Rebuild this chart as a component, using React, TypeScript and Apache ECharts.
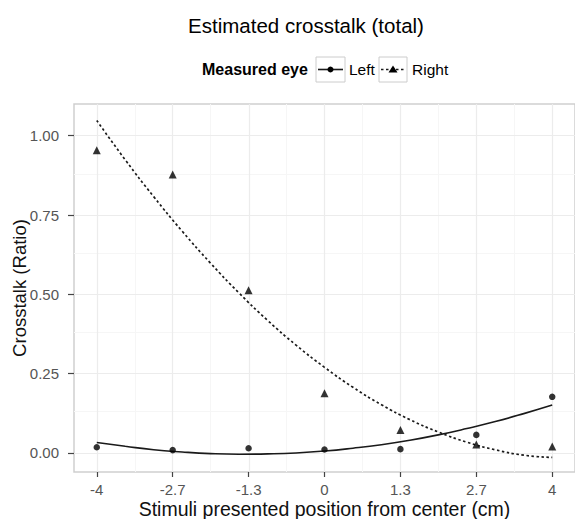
import React, { useEffect, useRef } from "react";
import * as echarts from "echarts";

// ---- data ----
const xTicks = [-4, -8 / 3, -4 / 3, 0, 4 / 3, 8 / 3, 4];
const xTickLabels = ["-4", "-2.7", "-1.3", "0", "1.3", "2.7", "4"];
const xMinor = [-10 / 3, -2, -2 / 3, 2 / 3, 2, 10 / 3];
const yTicks = [0, 0.25, 0.5, 0.75, 1.0];
const yMinor = [0.125, 0.375, 0.625, 0.875];

const leftValues = [0.018, 0.009, 0.015, 0.011, 0.012, 0.057, 0.177];
const rightValues = [0.954, 0.878, 0.513, 0.188, 0.072, 0.027, 0.02];

const fitX = [-4, -3.5, -3, -2.5, -2, -1.5, -1, -0.5, 0, 0.5, 1, 1.5, 2, 2.5, 3, 3.5, 4];
const leftFit = [0.033, 0.021, 0.01, 0.003, -0.002, -0.004, -0.003, 0.0, 0.006, 0.015, 0.026, 0.04, 0.057, 0.077, 0.099, 0.124, 0.151];
const rightFit = [1.048, 0.924, 0.808, 0.699, 0.598, 0.504, 0.418, 0.34, 0.27, 0.207, 0.152, 0.105, 0.066, 0.034, 0.01, -0.007, -0.014];

const FONT = "Liberation Sans, Arial, Helvetica, sans-serif";

export default function App() {
  const ref = useRef<HTMLDivElement>(null);
  useEffect(() => {
    if (!ref.current) return;
    const chart = echarts.init(ref.current, null, { renderer: "svg" });
    const pairs = (xs: number[], ys: number[]) => xs.map((x, i) => [x, ys[i]]);
    const gridMark = {
      silent: true,
      z: 0,
      symbol: "none",
      label: { show: false },
      animation: false,
      data: [
        ...xMinor.map((v) => ({ xAxis: v, lineStyle: { color: "#f6f6f6", width: 1, type: "solid" } })),
        ...yMinor.map((v) => ({ yAxis: v, lineStyle: { color: "#f6f6f6", width: 1, type: "solid" } })),
        ...xTicks.map((v) => ({ xAxis: v, lineStyle: { color: "#ececec", width: 1.2, type: "solid" } })),
        ...yTicks.map((v) => ({ yAxis: v, lineStyle: { color: "#ececec", width: 1.2, type: "solid" } })),
      ],
    };
    chart.setOption({
      animation: false,
      backgroundColor: "#ffffff",
      textStyle: { fontFamily: FONT },
      title: {
        text: "Estimated crosstalk (total)",
        left: 301,
        textAlign: "center",
        top: 10,
        textStyle: { fontFamily: FONT, fontSize: 20.5, fontWeight: "normal", color: "#000" },
      },
      grid: {
        left: 74,
        top: 104,
        width: 501,
        height: 368,
        show: true,
        borderColor: "#cfcfcf",
        borderWidth: 1.5,
        backgroundColor: "#fff",
        containLabel: false,
        outerBoundsMode: "none",
      },
      xAxis: {
        type: "value",
        min: -4.4,
        max: 4.4,
        name: "Stimuli presented position from center (cm)",
        nameLocation: "middle",
        nameGap: 27,
        nameMoveOverlap: false,
        nameTextStyle: { fontFamily: FONT, fontSize: 19.5, lineHeight: 19, color: "#111" },
        axisLine: { show: false, onZero: false },
        splitLine: { show: false },
        axisTick: { show: true, customValues: xTicks, length: 5, lineStyle: { color: "#444", width: 1.2 } },
        axisLabel: {
          customValues: xTicks,
          margin: 10,
          fontFamily: FONT,
          fontSize: 15,
          lineHeight: 14,
          color: "#555",
          formatter: (v: number) => {
            const i = xTicks.findIndex((t) => Math.abs(t - v) < 1e-6);
            return i >= 0 ? xTickLabels[i] : "";
          },
        },
      },
      yAxis: {
        type: "value",
        min: -0.06,
        max: 1.1,
        name: "Crosstalk (Ratio)",
        nameLocation: "middle",
        nameGap: 45,
        nameMoveOverlap: false,
        nameTextStyle: { fontFamily: FONT, fontSize: 18.5, color: "#111" },
        axisLine: { show: false, onZero: false },
        splitLine: { show: false },
        axisTick: { show: true, customValues: yTicks, length: 6, lineStyle: { color: "#444", width: 1.2 } },
        axisLabel: {
          customValues: yTicks,
          margin: 15,
          fontFamily: FONT,
          fontSize: 15,
          color: "#555",
          formatter: (v: number) => v.toFixed(2),
        },
      },
      series: [
        {
          name: "grid",
          type: "line",
          data: [],
          markLine: gridMark,
          z: 0,
        },
        {
          name: "Left fit",
          type: "line",
          smooth: true,
          showSymbol: false,
          data: pairs(fitX, leftFit),
          lineStyle: { color: "#1a1a1a", width: 1.6, type: "solid" },
          z: 3,
        },
        {
          name: "Right fit",
          type: "line",
          smooth: true,
          showSymbol: false,
          data: pairs(fitX, rightFit),
          lineStyle: { color: "#1a1a1a", width: 1.7, type: [2.5, 2.5] },
          z: 3,
        },
        {
          name: "Left",
          type: "scatter",
          symbol: "circle",
          symbolSize: 6.5,
          data: pairs(xTicks, leftValues),
          itemStyle: { color: "#000" },
          z: 6,
        },
        {
          name: "Right",
          type: "scatter",
          symbol: "triangle",
          symbolSize: 8,
          data: pairs(xTicks, rightValues),
          itemStyle: { color: "#000" },
          z: 6,
        },
      ],
      graphic: [
        {
          type: "text",
          left: 202,
          top: 61,
          style: { text: "Measured eye", fontFamily: FONT, fontSize: 16, fontWeight: "bold", fill: "#000" },
        },
        { type: "rect", shape: { x: 316, y: 57, width: 29, height: 25 }, style: { fill: "#fff", stroke: "#cccccc", lineWidth: 1 } },
        { type: "line", shape: { x1: 318, y1: 69.5, x2: 343, y2: 69.5 }, style: { stroke: "#1a1a1a", lineWidth: 1.6 } },
        { type: "circle", shape: { cx: 330.5, cy: 69.5, r: 3 }, style: { fill: "#000" } },
        {
          type: "text",
          left: 349,
          top: 61,
          style: { text: "Left", fontFamily: FONT, fontSize: 15.5, fill: "#000" },
        },
        { type: "rect", shape: { x: 379, y: 57, width: 28, height: 25 }, style: { fill: "#fff", stroke: "#cccccc", lineWidth: 1 } },
        { type: "line", shape: { x1: 381, y1: 69.5, x2: 405, y2: 69.5 }, style: { stroke: "#1a1a1a", lineWidth: 1.7, lineDash: [2.5, 2.5] } },
        { type: "polygon", shape: { points: [[393, 65.5], [397.5, 72.5], [388.5, 72.5]] }, style: { fill: "#000" } },
        {
          type: "text",
          left: 412,
          top: 61,
          style: { text: "Right", fontFamily: FONT, fontSize: 15.5, fill: "#000" },
        },
      ],
    });
    return () => chart.dispose();
  }, []);
  return <div ref={ref} style={{ position: "absolute", left: 0, top: 0, width: 575, height: 519 }} />;
}
